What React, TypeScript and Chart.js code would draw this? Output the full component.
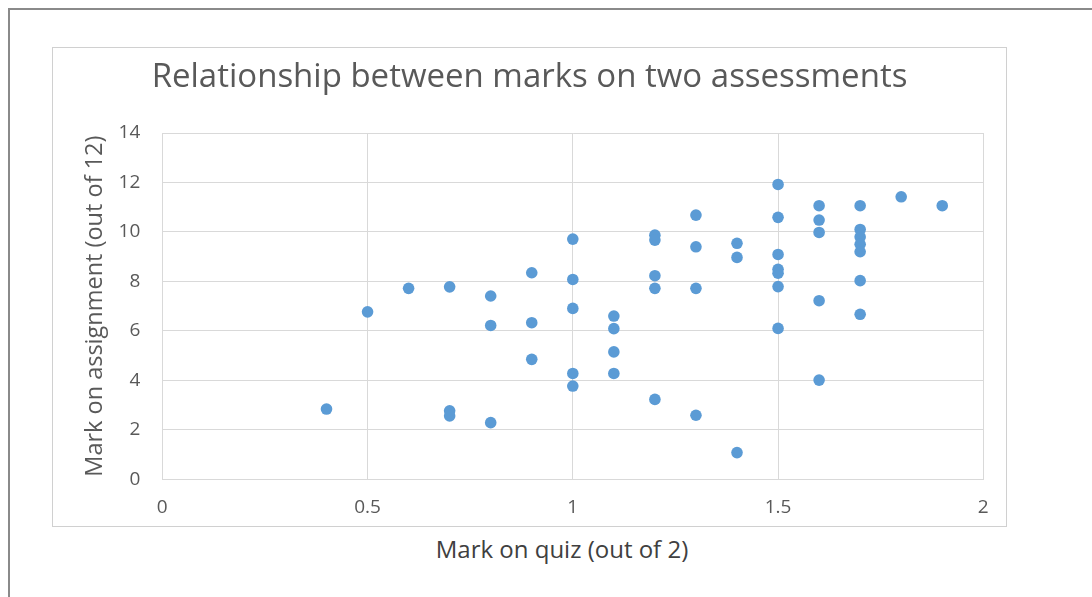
import React, { useEffect, useRef } from "react";
import { Chart, registerables } from "chart.js";

Chart.register(...registerables);

const quizMarks: number[] = [
  0.4,
  0.5,
  0.6,
  0.7, 0.7, 0.7,
  0.8, 0.8, 0.8,
  0.9, 0.9, 0.9,
  1.0, 1.0, 1.0, 1.0, 1.0,
  1.1, 1.1, 1.1, 1.1,
  1.2, 1.2, 1.2, 1.2, 1.2,
  1.3, 1.3, 1.3, 1.3,
  1.4, 1.4, 1.4,
  1.5, 1.5, 1.5, 1.5, 1.5, 1.5, 1.5,
  1.6, 1.6, 1.6, 1.6, 1.6,
  1.7, 1.7, 1.7, 1.7, 1.7, 1.7, 1.7,
  1.8,
  1.9,
];

const assignmentMarks: number[] = [
  2.84,
  6.77,
  7.72,
  7.78, 2.77, 2.56,
  7.41, 6.22, 2.29,
  8.35, 6.33, 4.85,
  9.71, 8.08, 6.91, 4.28, 3.77,
  6.6, 6.09, 5.15, 4.28,
  9.87, 9.67, 8.23, 7.72, 3.23,
  10.68, 9.4, 7.72, 2.59,
  9.54, 8.97, 1.08,
  11.92, 10.59, 9.09, 8.49, 8.33, 7.79, 6.1,
  11.06, 10.48, 9.98, 7.22, 4.01,
  11.06, 10.1, 9.8, 9.5, 9.2, 8.03, 6.67,
  11.42,
  11.06,
];

const xTickLabels: string[] = ["0", "0.5", "1", "1.5", "2"];

const chartTitle = "Relationship between marks on two assessments";
const xAxisTitle = "Mark on quiz (out of 2)";
const yAxisTitle = "Mark on assignment (out of 12)";

const FONT = "'Open Sans', 'Noto Sans', sans-serif";

export default function App() {
  const canvasRef = useRef<HTMLCanvasElement | null>(null);

  useEffect(() => {
    const canvas = canvasRef.current;
    if (!canvas) return;
    const points = quizMarks.map((x, i) => ({ x, y: assignmentMarks[i] }));
    const chart = new Chart(canvas, {
      type: "scatter",
      data: {
        datasets: [
          {
            data: points,
            backgroundColor: "#5B9BD5",
            borderColor: "#5B9BD5",
            borderWidth: 0,
            pointRadius: 5.8,
            pointHoverRadius: 5.8,
          },
        ],
      },
      options: {
        responsive: false,
        animation: false,
        devicePixelRatio: 1,
        layout: {
          padding: { left: 22.7, right: 22.7, top: 0, bottom: 6.6 },
        },
        plugins: {
          legend: { display: false },
          tooltip: { enabled: false },
          title: {
            display: true,
            text: chartTitle,
            color: "#595959",
            font: { family: FONT, size: 33, weight: "normal" },
            padding: { top: 10.2, bottom: 35.2 },
          },
        },
        scales: {
          x: {
            type: "linear",
            min: 0,
            max: 2,
            afterFit: (scale: any) => {
              scale.height = 40.1;
              scale.paddingLeft = 0;
              scale.paddingRight = 0;
            },
            ticks: {
              stepSize: 0.5,
              maxRotation: 0,
              color: "#595959",
              font: { family: FONT, size: 19 },
              padding: 17.3,
              callback: (_v: any, i: number) => xTickLabels[i],
            },
            grid: { color: "#d9d9d9", lineWidth: 1, drawTicks: false },
            border: { color: "#d9d9d9", width: 1 },
          },
          y: {
            type: "linear",
            min: 0,
            max: 14,
            afterFit: (scale: any) => {
              scale.width = 86.6;
              scale.paddingTop = 0;
              scale.paddingBottom = 0;
            },
            ticks: {
              stepSize: 2,
              color: "#595959",
              font: { family: FONT, size: 19 },
              padding: 22,
            },
            grid: { color: "#d9d9d9", lineWidth: 1, drawTicks: false },
            border: { color: "#d9d9d9", width: 1 },
            title: {
              display: true,
              text: yAxisTitle,
              color: "#595959",
              font: { family: FONT, size: 23.5 },
              padding: { top: 5.2, bottom: 0 },
            },
          },
        },
      },
    });
    return () => chart.destroy();
  }, []);

  return (
    <div>
      <div
        style={{
          position: "absolute",
          left: 8,
          top: 8,
          width: 1100,
          height: 600,
          borderTop: "2px solid #8a8a8a",
          borderLeft: "2px solid #8a8a8a",
          boxSizing: "border-box",
        }}
      />
      <div
        style={{
          position: "absolute",
          left: 52,
          top: 47,
          width: 953,
          height: 478,
          border: "1px solid #d0d0d0",
          background: "#fff",
        }}
      >
        <canvas
          ref={canvasRef}
          width={953}
          height={478}
          style={{ display: "block", width: 953, height: 478 }}
        />
      </div>
      <div
        style={{
          position: "absolute",
          left: 362,
          top: 533,
          width: 400,
          textAlign: "center",
          fontFamily: FONT,
          fontSize: 24,
          lineHeight: "32px",
          color: "#404040",
        }}
      >
        {xAxisTitle}
      </div>
    </div>
  );
}
